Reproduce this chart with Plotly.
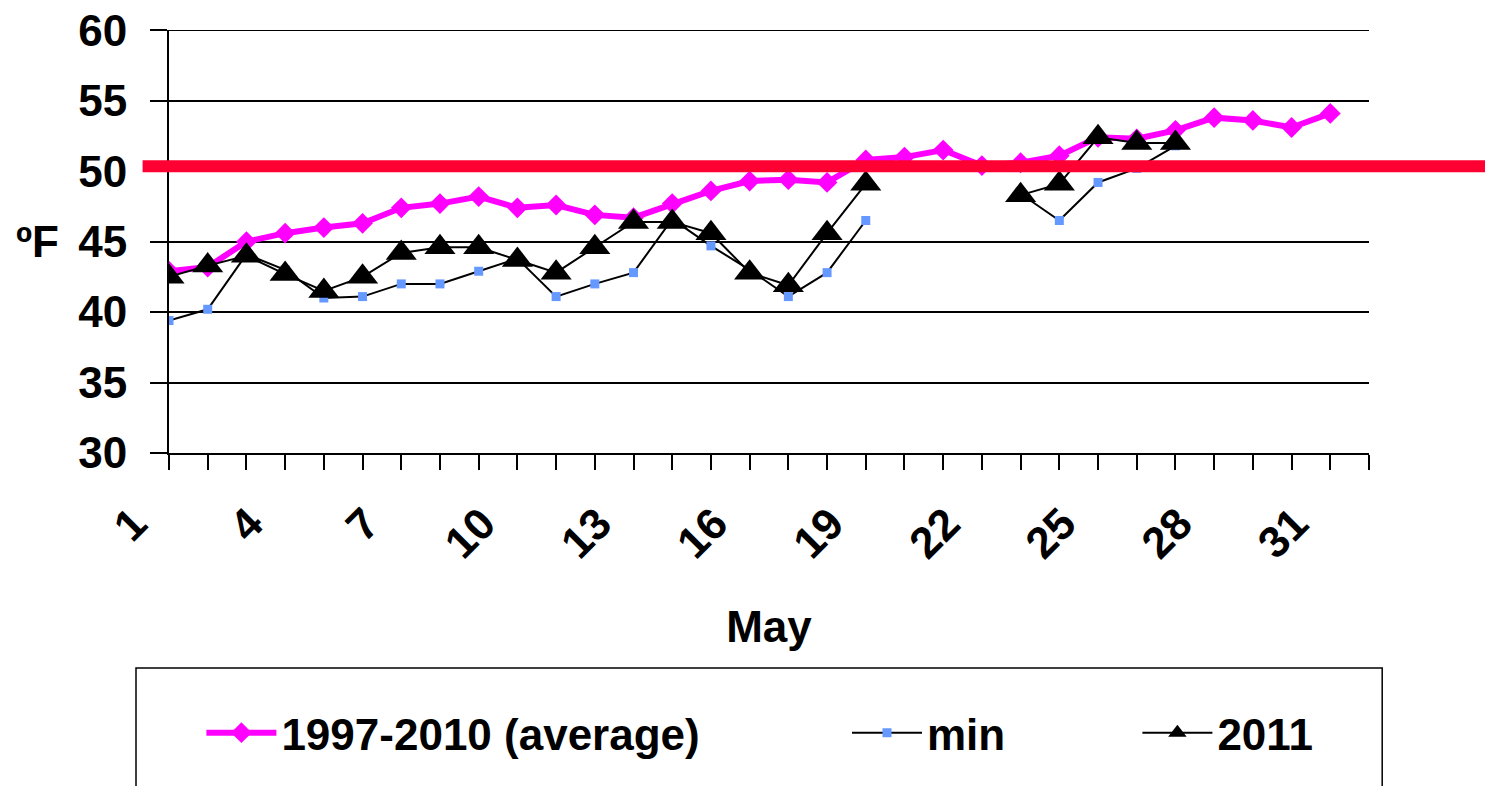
import plotly.graph_objects as go

# May soil/water temperature, ºF
days = list(range(1, 32))
avg_9710 = [42.9, 43.2, 45.0, 45.6, 46.0, 46.3, 47.4, 47.7, 48.2, 47.4,
            47.6, 46.9, 46.7, 47.7, 48.6, 49.3, 49.4, 49.2, 50.8, 51.0,
            51.5, 50.4, 50.6, 51.1, 52.4, 52.3, 52.9, 53.8, 53.6, 53.1, 54.1]
min_9710 = [39.4, 40.2, 44.1, 43.0, 41.0, 41.1, 42.0, 42.0, 42.9, 43.8,
            41.1, 42.0, 42.8, 46.6, 44.7, 43.0, 41.1, 42.8, 46.5, None,
            None, None, 48.4, 46.5, 49.2, 50.2, 51.8, None, None, None, None]
y2011 = [42.5, 43.3, 44.0, 42.7, 41.5, 42.5, 44.2, 44.6, 44.6, 43.7,
         42.8, 44.6, 46.4, 46.4, 45.6, 42.8, 41.9, 45.6, 49.1, None,
         None, None, 48.3, 49.1, 52.4, 52.0, 52.0, None, None, None, None]
threshold = 50.35

tick_days = list(range(1, 33))
tick_text = [str(d) if (d - 1) % 3 == 0 and d <= 31 else "" for d in tick_days]
y_ticks = [30, 35, 40, 45, 50, 55, 60]

FONT = "Arial, Liberation Sans, sans-serif"

fig = go.Figure()
fig.add_trace(go.Scatter(
    x=days, y=avg_9710, name="1997-2010 (average)", mode="lines+markers",
    line=dict(color="#FF00FF", width=6),
    marker=dict(symbol="diamond", size=16, color="#FF00FF"),
    legend="legend",
))
fig.add_trace(go.Scatter(
    x=days, y=min_9710, name="min", mode="lines+markers",
    line=dict(color="black", width=2),
    marker=dict(symbol="square", size=9, color="#6699FF"),
    connectgaps=False, legend="legend2",
))
fig.add_trace(go.Scatter(
    x=days, y=y2011, name="2011", mode="lines+markers",
    line=dict(color="black", width=2),
    marker=dict(symbol="triangle-up", size=27, color="black"),
    connectgaps=False, legend="legend3",
))

# top gridline (plotly skips grid lines sitting on the plot edge)
fig.add_shape(type="line", xref="paper", yref="y", x0=0, x1=1,
              y0=y_ticks[-1], y1=y_ticks[-1], line=dict(color="black", width=1.5),
              layer="below")
# threshold bar, runs past the plot area like the drawn line in the original
fig.add_shape(type="line", xref="paper", yref="y", x0=-0.022, x1=1.11,
              y0=threshold, y1=threshold, line=dict(color="#FF0033", width=12),
              layer="above")
# legend frame
fig.add_shape(type="rect", xref="paper", yref="paper", x0=-0.0275, x1=1.011,
              y0=-0.508, y1=-0.9, line=dict(color="black", width=1.5),
              layer="above")

fig.add_annotation(text="ºF", xref="paper", yref="paper", x=-0.11, y=0.5,
                   xanchor="center", showarrow=False,
                   font=dict(size=44, color="black", weight=700))

leg = dict(orientation="h", yanchor="middle", y=-0.662, xanchor="left",
           bgcolor="rgba(0,0,0,0)", borderwidth=0, itemwidth=70,
           font=dict(size=44, color="black", family=FONT, weight=700))
# page body adds ~8px offset, so the figure is a bit smaller than the window
fig.update_layout(
    width=1485, height=778, showlegend=True,
    margin=dict(l=161, r=124, t=22, b=333, autoexpand=False),
    paper_bgcolor="white", plot_bgcolor="white",
    font=dict(family=FONT, color="black", weight=700),
    legend=dict(leg, x=0.027),
    legend2=dict(leg, x=0.565),
    legend3=dict(leg, x=0.807),
)
fig.update_xaxes(
    range=[1, 32], tickmode="array", tickvals=tick_days, ticktext=tick_text,
    tickangle=-45, tickfont=dict(size=44), ticks="outside", ticklen=15,
    tickwidth=1.5, tickcolor="black", showgrid=False, zeroline=False,
    showline=True, linecolor="black", linewidth=2, automargin=False,
    ticklabelshift=-35, ticklabelstandoff=10,
    title=dict(text="May", font=dict(size=44), standoff=45),
)
fig.update_yaxes(
    range=[30, 60.02], tickmode="array", tickvals=y_ticks,
    tickfont=dict(size=44), ticks="outside", ticklen=17, tickwidth=1.5,
    tickcolor="black", showgrid=True, gridcolor="black", gridwidth=1.5,
    zeroline=False, showline=True, linecolor="black", linewidth=2,
    ticklabelstandoff=14, automargin=False, ticklabeloverflow="allow",
)

fig.write_html("out.html")
